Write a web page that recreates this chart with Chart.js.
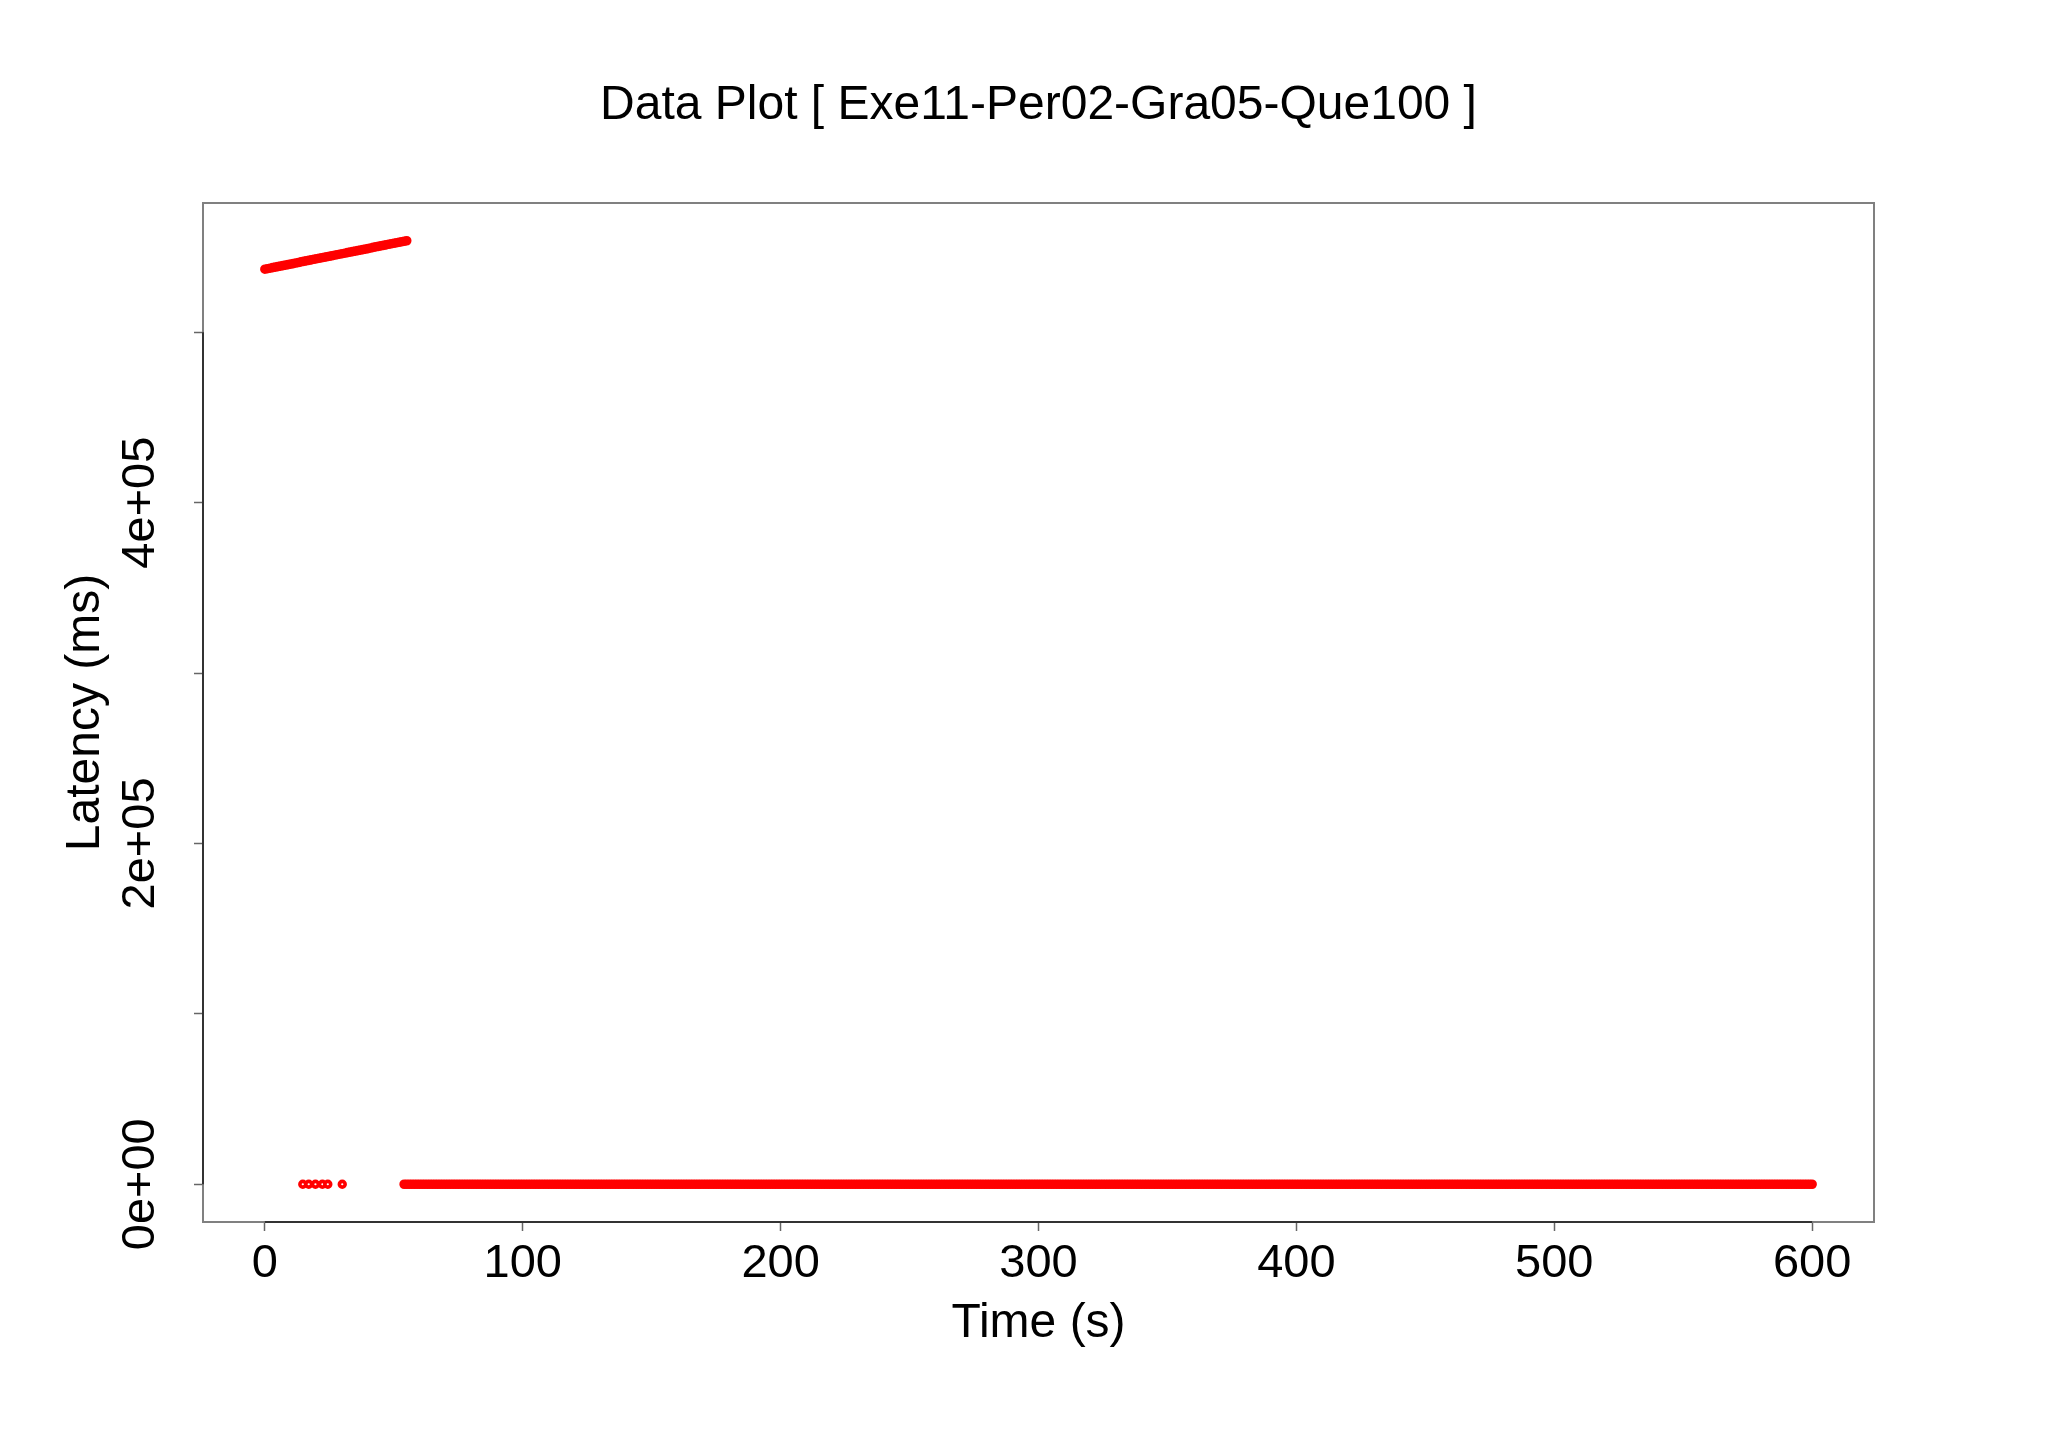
<!DOCTYPE html>
<html>
<head>
<meta charset="utf-8">
<script src="https://cdn.jsdelivr.net/npm/chart.js@4.4.0/dist/chart.umd.min.js"></script>
<style>
html,body{margin:0;padding:0;background:#ffffff;}
#wrap{width:2048px;height:1440px;}
</style>
</head>
<body>
<div id="wrap"><canvas id="c" width="2048" height="1440"></canvas></div>
<script>
const chartTitle = 'Data Plot [ Exe11-Per02-Gra05-Que100 ]';
const xAxisTitle = 'Time (s)';
const yAxisTitle = 'Latency (ms)';
const xTicks = [0, 100, 200, 300, 400, 500, 600];
const xTickLabels = ['0', '100', '200', '300', '400', '500', '600'];
const yTicks = [0, 100000, 200000, 300000, 400000, 500000];
const yTickLabels = ['0e+00', '', '2e+05', '', '4e+05', ''];

// early backlog: latency grows while the queue drains (t = 0 .. 55 s)
const upperTime = [0,1,2,3,4,5,6,7,8,9,10,11,12,13,14,15,16,17,18,19,
  20,21,22,23,24,25,26,27,28,29,30,31,32,33,34,35,36,37,38,39,
  40,41,42,43,44,45,46,47,48,49,50,51,52,53,54,55];
const upperLatency = [537000,537300,537600,537900,538200,538500,538800,539100,539400,539700,
  540000,540300,540600,540900,541300,541600,541900,542200,542500,542800,
  543100,543400,543700,544000,544300,544600,544900,545200,545500,545800,
  546100,546400,546700,547000,547300,547600,547900,548200,548500,548800,
  549100,549400,549800,550100,550400,550700,551000,551300,551600,551900,
  552200,552500,552800,553100,553400,553700];

// few isolated low-latency samples
const isolatedTime = [14.7, 17.0, 19.6, 22.3, 24.4, 30.0];
const isolatedLatency = [0, 0, 0, 0, 0, 0];

// steady state samples (t = 54 .. 600 s)
const lowerTime = [54,55,56,57,58,59,60,61,62,63,64,65,66,67,68,69,70,71,72,73,
  74,75,76,77,78,79,80,81,82,83,84,85,86,87,88,89,90,91,92,93,
  94,95,96,97,98,99,100,101,102,103,104,105,106,107,108,109,110,111,112,113,
  114,115,116,117,118,119,120,121,122,123,124,125,126,127,128,129,130,131,132,133,
  134,135,136,137,138,139,140,141,142,143,144,145,146,147,148,149,150,151,152,153,
  154,155,156,157,158,159,160,161,162,163,164,165,166,167,168,169,170,171,172,173,
  174,175,176,177,178,179,180,181,182,183,184,185,186,187,188,189,190,191,192,193,
  194,195,196,197,198,199,200,201,202,203,204,205,206,207,208,209,210,211,212,213,
  214,215,216,217,218,219,220,221,222,223,224,225,226,227,228,229,230,231,232,233,
  234,235,236,237,238,239,240,241,242,243,244,245,246,247,248,249,250,251,252,253,
  254,255,256,257,258,259,260,261,262,263,264,265,266,267,268,269,270,271,272,273,
  274,275,276,277,278,279,280,281,282,283,284,285,286,287,288,289,290,291,292,293,
  294,295,296,297,298,299,300,301,302,303,304,305,306,307,308,309,310,311,312,313,
  314,315,316,317,318,319,320,321,322,323,324,325,326,327,328,329,330,331,332,333,
  334,335,336,337,338,339,340,341,342,343,344,345,346,347,348,349,350,351,352,353,
  354,355,356,357,358,359,360,361,362,363,364,365,366,367,368,369,370,371,372,373,
  374,375,376,377,378,379,380,381,382,383,384,385,386,387,388,389,390,391,392,393,
  394,395,396,397,398,399,400,401,402,403,404,405,406,407,408,409,410,411,412,413,
  414,415,416,417,418,419,420,421,422,423,424,425,426,427,428,429,430,431,432,433,
  434,435,436,437,438,439,440,441,442,443,444,445,446,447,448,449,450,451,452,453,
  454,455,456,457,458,459,460,461,462,463,464,465,466,467,468,469,470,471,472,473,
  474,475,476,477,478,479,480,481,482,483,484,485,486,487,488,489,490,491,492,493,
  494,495,496,497,498,499,500,501,502,503,504,505,506,507,508,509,510,511,512,513,
  514,515,516,517,518,519,520,521,522,523,524,525,526,527,528,529,530,531,532,533,
  534,535,536,537,538,539,540,541,542,543,544,545,546,547,548,549,550,551,552,553,
  554,555,556,557,558,559,560,561,562,563,564,565,566,567,568,569,570,571,572,573,
  574,575,576,577,578,579,580,581,582,583,584,585,586,587,588,589,590,591,592,593,
  594,595,596,597,598,599,600];
const lowerLatency = [0,0,0,0,0,0,0,0,0,0,0,0,0,0,0,0,0,0,0,0,
  0,0,0,0,0,0,0,0,0,0,0,0,0,0,0,0,0,0,0,0,
  0,0,0,0,0,0,0,0,0,0,0,0,0,0,0,0,0,0,0,0,
  0,0,0,0,0,0,0,0,0,0,0,0,0,0,0,0,0,0,0,0,
  0,0,0,0,0,0,0,0,0,0,0,0,0,0,0,0,0,0,0,0,
  0,0,0,0,0,0,0,0,0,0,0,0,0,0,0,0,0,0,0,0,
  0,0,0,0,0,0,0,0,0,0,0,0,0,0,0,0,0,0,0,0,
  0,0,0,0,0,0,0,0,0,0,0,0,0,0,0,0,0,0,0,0,
  0,0,0,0,0,0,0,0,0,0,0,0,0,0,0,0,0,0,0,0,
  0,0,0,0,0,0,0,0,0,0,0,0,0,0,0,0,0,0,0,0,
  0,0,0,0,0,0,0,0,0,0,0,0,0,0,0,0,0,0,0,0,
  0,0,0,0,0,0,0,0,0,0,0,0,0,0,0,0,0,0,0,0,
  0,0,0,0,0,0,0,0,0,0,0,0,0,0,0,0,0,0,0,0,
  0,0,0,0,0,0,0,0,0,0,0,0,0,0,0,0,0,0,0,0,
  0,0,0,0,0,0,0,0,0,0,0,0,0,0,0,0,0,0,0,0,
  0,0,0,0,0,0,0,0,0,0,0,0,0,0,0,0,0,0,0,0,
  0,0,0,0,0,0,0,0,0,0,0,0,0,0,0,0,0,0,0,0,
  0,0,0,0,0,0,0,0,0,0,0,0,0,0,0,0,0,0,0,0,
  0,0,0,0,0,0,0,0,0,0,0,0,0,0,0,0,0,0,0,0,
  0,0,0,0,0,0,0,0,0,0,0,0,0,0,0,0,0,0,0,0,
  0,0,0,0,0,0,0,0,0,0,0,0,0,0,0,0,0,0,0,0,
  0,0,0,0,0,0,0,0,0,0,0,0,0,0,0,0,0,0,0,0,
  0,0,0,0,0,0,0,0,0,0,0,0,0,0,0,0,0,0,0,0,
  0,0,0,0,0,0,0,0,0,0,0,0,0,0,0,0,0,0,0,0,
  0,0,0,0,0,0,0,0,0,0,0,0,0,0,0,0,0,0,0,0,
  0,0,0,0,0,0,0,0,0,0,0,0,0,0,0,0,0,0,0,0,
  0,0,0,0,0,0,0,0,0,0,0,0,0,0,0,0,0,0,0,0,
  0,0,0,0,0,0,0];

const FONT = '"Liberation Sans", Arial, Helvetica, sans-serif';
Chart.defaults.font.family = FONT;
Chart.defaults.color = '#000000';

function pairs(xs, ys) { return xs.map((t, i) => ({ x: t, y: ys[i] })); }

const boxPlugin = {
  id: 'rbox',
  afterDraw(chart) {
    const { ctx, chartArea: { left, top, right, bottom } } = chart;
    const xs = chart.scales.x, ys = chart.scales.y;
    ctx.save();
    ctx.strokeStyle = '#808080';
    ctx.lineWidth = 2;
    ctx.strokeRect(left, top, right - left, bottom - top);
    ctx.strokeStyle = '#333333';
    ctx.beginPath();
    ctx.moveTo(xs.getPixelForValue(xTicks[0]), bottom);
    ctx.lineTo(xs.getPixelForValue(xTicks[xTicks.length - 1]), bottom);
    ctx.moveTo(left, ys.getPixelForValue(yTicks[0]));
    ctx.lineTo(left, ys.getPixelForValue(yTicks[yTicks.length - 1]));
    ctx.stroke();
    ctx.restore();
  }
};

new Chart(document.getElementById('c'), {
  type: 'scatter',
  data: {
    datasets: [
      { label: 'backlog', data: pairs(upperTime, upperLatency), pointRadius: 3.3, pointBorderWidth: 3,
        pointBorderColor: '#ff0000', pointBackgroundColor: '#ff0000', pointHoverRadius: 3.3 },
      { label: 'isolated', data: pairs(isolatedTime, isolatedLatency), pointRadius: 2.9, pointBorderWidth: 3.6,
        pointBorderColor: '#ff0000', pointBackgroundColor: '#ffffff', pointHoverRadius: 2.9 },
      { label: 'steady', data: pairs(lowerTime, lowerLatency), pointRadius: 3.3, pointBorderWidth: 3,
        pointBorderColor: '#ff0000', pointBackgroundColor: '#ff0000', pointHoverRadius: 3.3 }
    ]
  },
  options: {
    responsive: false,
    animation: false,
    devicePixelRatio: 1,
    layout: { padding: { left: 0, right: 174, top: 0, bottom: 0 } },
    plugins: {
      legend: { display: false },
      tooltip: { enabled: false },
      title: {
        display: true, text: chartTitle, color: '#000000', fullSize: false,
        font: { family: FONT, size: 48, weight: 'normal' },
        padding: { top: 77, bottom: 68.4 }
      }
    },
    scales: {
      x: {
        type: 'linear', min: -24, max: 624,
        afterBuildTicks: s => { s.ticks = xTicks.map(v => ({ value: v })); },
        afterFit: s => { s.height = 218; },
        ticks: {
          callback: (v, i) => xTickLabels[i], font: { size: 47 }, color: '#000000',
          padding: 5, maxRotation: 0, minRotation: 0, autoSkip: false
        },
        grid: { drawOnChartArea: false, drawTicks: true, tickLength: 9, tickColor: '#666666', tickWidth: 1.5 },
        border: { display: false },
        title: { display: true, text: xAxisTitle, color: '#000000', font: { size: 48 }, padding: { top: 0, bottom: 87 } }
      },
      y: {
        type: 'linear', min: -22150, max: 575850,
        afterBuildTicks: s => { s.ticks = yTicks.map(v => ({ value: v })); },
        afterFit: s => { s.width = 203; },
        ticks: {
          callback: (v, i) => yTickLabels[i], font: { size: 47 }, color: '#000000',
          minRotation: 90, maxRotation: 90, crossAlign: 'center', padding: -13, autoSkip: false
        },
        grid: { drawOnChartArea: false, drawTicks: true, tickLength: 9, tickColor: '#666666', tickWidth: 1.5 },
        border: { display: false },
        title: { display: true, text: yAxisTitle, color: '#000000', font: { size: 48 }, padding: { top: 57, bottom: 0 } }
      }
    }
  },
  plugins: [boxPlugin]
});
</script>
</body>
</html>
